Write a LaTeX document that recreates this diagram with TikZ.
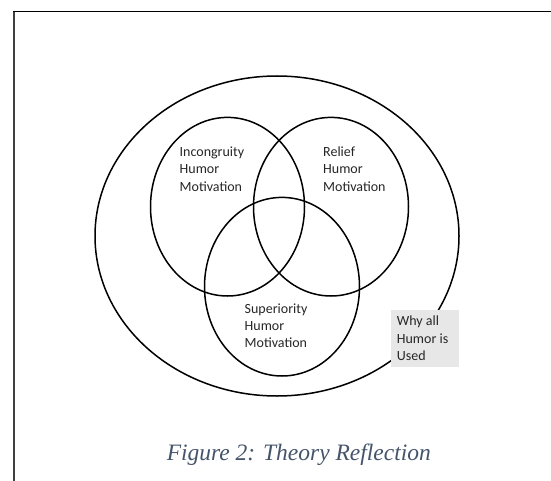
\documentclass[tikz,border=0pt]{standalone}
\usepackage{fontspec}
\setmainfont{Liberation Serif}
\newfontfamily\calib{Carlito}
\usetikzlibrary{shapes.geometric}
\definecolor{capblue}{HTML}{44546A}
\definecolor{boxgrey}{HTML}{E7E7E7}
\definecolor{txtgrey}{HTML}{262626}
\definecolor{framegrey}{HTML}{404040}
\tikzset{
  ring/.style={draw=black, line width=1.5pt, ellipse, inner sep=0pt},
  lbl/.style={anchor=base west, align=left, inner sep=0pt, text=txtgrey,
              font=\calib\fontsize{14}{17.3}\selectfont},
}
\begin{document}
\begin{tikzpicture}[x=1pt,y=-1pt]
\useasboundingbox (0,0) rectangle (551,481);
% frame
\draw[framegrey, line width=2pt] (14,11) -- (14,481);
\draw[black, line width=1.2pt] (13,11.5) -- (551,11.5);
% outer ellipse
\node[ring, minimum width=364pt, minimum height=320pt] (outer) at (277,236) {};
% three circles
\node[ring, minimum width=154pt, minimum height=178.6pt] (inc) at (227.5,206.7) {};
\node[ring, minimum width=155pt, minimum height=178.6pt] (rel) at (331,206.7) {};
\node[ring, minimum width=155pt, minimum height=178.6pt] (sup) at (282,286.7) {};
% labels (base anchor = last line baseline)
\node[lbl] (tinc) at (179.5,191.1) {Incongruity\\Humor\\Motivation};
\node[lbl] (trel) at (323,191.1) {Relief\\Humor\\Motivation};
\node[lbl] (tsup) at (244.5,347.6) {Superiority\\Humor\\Motivation};
% grey box
\node[fill=boxgrey, draw=none, anchor=north west, minimum width=67.6pt,
      minimum height=56.7pt, inner sep=0pt] (box) at (390.7,310) {};
\node[lbl] (twhy) at (396.7,360.3) {Why all\\Humor is\\Used};
% caption
\node[anchor=base, inner sep=0pt, text=capblue,
      font=\fontsize{23.5}{28}\selectfont\itshape] (cap) at (298.8,460)
      {Figure 2: Theory Reflection};
\end{tikzpicture}
\end{document}
